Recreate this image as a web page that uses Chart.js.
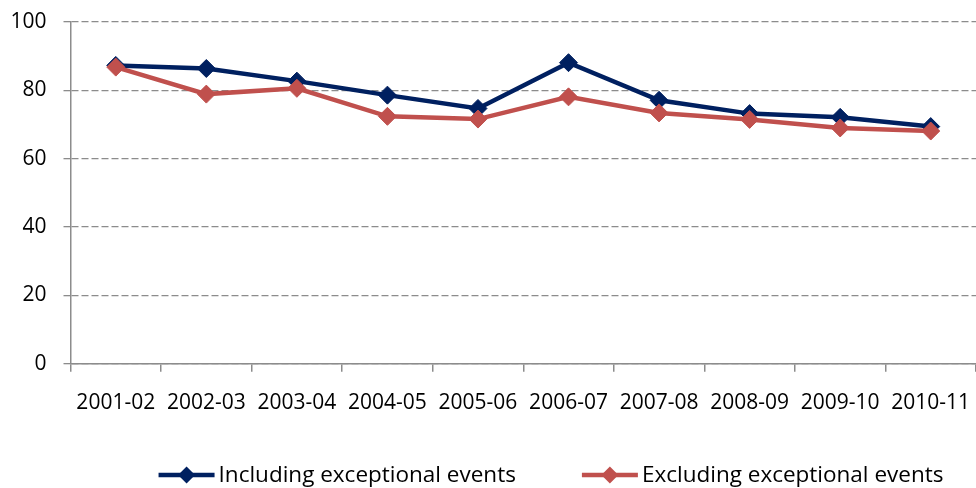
<!DOCTYPE html>
<html>
<head>
<meta charset="utf-8">
<title>Exceptional events, 2001-02 to 2010-11</title>
<script src="https://cdn.jsdelivr.net/npm/chart.js@4.4.0/dist/chart.umd.min.js"></script>
<style>
  html, body { margin: 0; padding: 0; background: #fff; overflow: hidden; }
  #chart-wrap { position: relative; width: 986px; height: 488px; }
</style>
</head>
<body>
<div id="chart-wrap"><canvas id="events-chart"></canvas></div>
<script>
// Financial years on the x axis
const years = ['2001-02', '2002-03', '2003-04', '2004-05', '2005-06',
               '2006-07', '2007-08', '2008-09', '2009-10', '2010-11'];

// Series values
const includingEvents = [87.3, 86.4, 82.7, 78.6, 74.7, 88.1, 77.1, 73.2, 72.1, 69.4];
const excludingEvents = [86.8, 78.9, 80.6, 72.4, 71.6, 78.1, 73.4, 71.5, 69.0, 68.1];

const seriesNames = ['Including exceptional events', 'Excluding exceptional events'];
const yTicks = [0, 20, 40, 60, 80, 100];

const NAVY = '#002060';
const BRICK = '#C0504D';
const GRID = '#8c8c8c';
const FONT = "'Open Sans', 'Liberation Sans', sans-serif";

// Legend under the axis labels: short line with a diamond, then the name
const lineLegend = {
    id: 'lineLegend',
    afterDraw(chart) {
        const ctx = chart.ctx;
        const sets = chart.data.datasets;
        const swatch = 56, textGap = 4, itemGap = 66;
        const centerX = 551, y = 475;

        ctx.save();
        ctx.font = '22.5px ' + FONT;
        const widths = sets.map(ds => ctx.measureText(ds.label).width);
        const total = widths.reduce((sum, w) => sum + swatch + textGap + w, 0) + itemGap * (sets.length - 1);
        let x = centerX - total / 2;

        sets.forEach((ds, i) => {
            ctx.strokeStyle = ds.borderColor;
            ctx.lineWidth = 4.5;
            ctx.beginPath();
            ctx.moveTo(x, y);
            ctx.lineTo(x + swatch, y);
            ctx.stroke();

            const cx = x + swatch / 2, r = 8.5;
            ctx.fillStyle = ds.borderColor;
            ctx.beginPath();
            ctx.moveTo(cx, y - r);
            ctx.lineTo(cx + r, y);
            ctx.lineTo(cx, y + r);
            ctx.lineTo(cx - r, y);
            ctx.closePath();
            ctx.fill();

            ctx.fillStyle = '#000';
            ctx.textBaseline = 'alphabetic';
            ctx.textAlign = 'left';
            ctx.fillText(ds.label, x + swatch + textGap, y + 7);

            x += swatch + textGap + widths[i] + itemGap;
        });
        ctx.restore();
    }
};

function lineSeries(label, values, color, order) {
    return {
        label: label,
        data: values,
        borderColor: color,
        backgroundColor: color,
        borderWidth: 4.5,
        pointStyle: 'rectRot',
        pointRadius: 9,
        pointHoverRadius: 9,
        pointBackgroundColor: color,
        pointBorderColor: color,
        pointBorderWidth: 1,
        tension: 0,
        order: order
    };
}

const ctx = document.getElementById('events-chart').getContext('2d');
new Chart(ctx, {
    type: 'line',
    data: {
        labels: years,
        datasets: [
            lineSeries(seriesNames[0], includingEvents, NAVY, 1),
            lineSeries(seriesNames[1], excludingEvents, BRICK, 0)
        ]
    },
    options: {
        responsive: true,
        maintainAspectRatio: false,
        animation: false,
        layout: { padding: { left: 0, top: 22, right: 0, bottom: 53 } },
        plugins: {
            legend: { display: false },
            tooltip: { enabled: false }
        },
        scales: {
            x: {
                offset: true,
                afterFit: scale => {
                    // labels sit inside their categories, no side padding needed
                    scale.paddingLeft = 0;
                    scale.paddingRight = 0;
                },
                grid: {
                    display: true,
                    offset: true,
                    drawOnChartArea: false,
                    tickLength: 8,
                    color: GRID,
                    lineWidth: 1.5
                },
                border: { color: GRID, width: 1.5 },
                ticks: {
                    color: '#000',
                    font: { family: FONT, size: 21 },
                    padding: 19,
                    maxRotation: 0,
                    autoSkip: false
                }
            },
            y: {
                min: 0,
                max: 100,
                afterBuildTicks: scale => {
                    scale.ticks = yTicks.map(v => ({ value: v }));
                },
                afterFit: scale => {
                    scale.width = 70.5;
                    scale.paddingTop = 0;
                    scale.paddingBottom = 0;
                },
                grid: {
                    color: GRID,
                    lineWidth: 1.3,
                    tickLength: 7
                },
                border: { color: GRID, width: 1.5, dash: [7, 3] },
                ticks: {
                    color: '#000',
                    font: { family: FONT, size: 21 },
                    padding: 17
                }
            }
        }
    },
    plugins: [lineLegend]
});
</script>
</body>
</html>
